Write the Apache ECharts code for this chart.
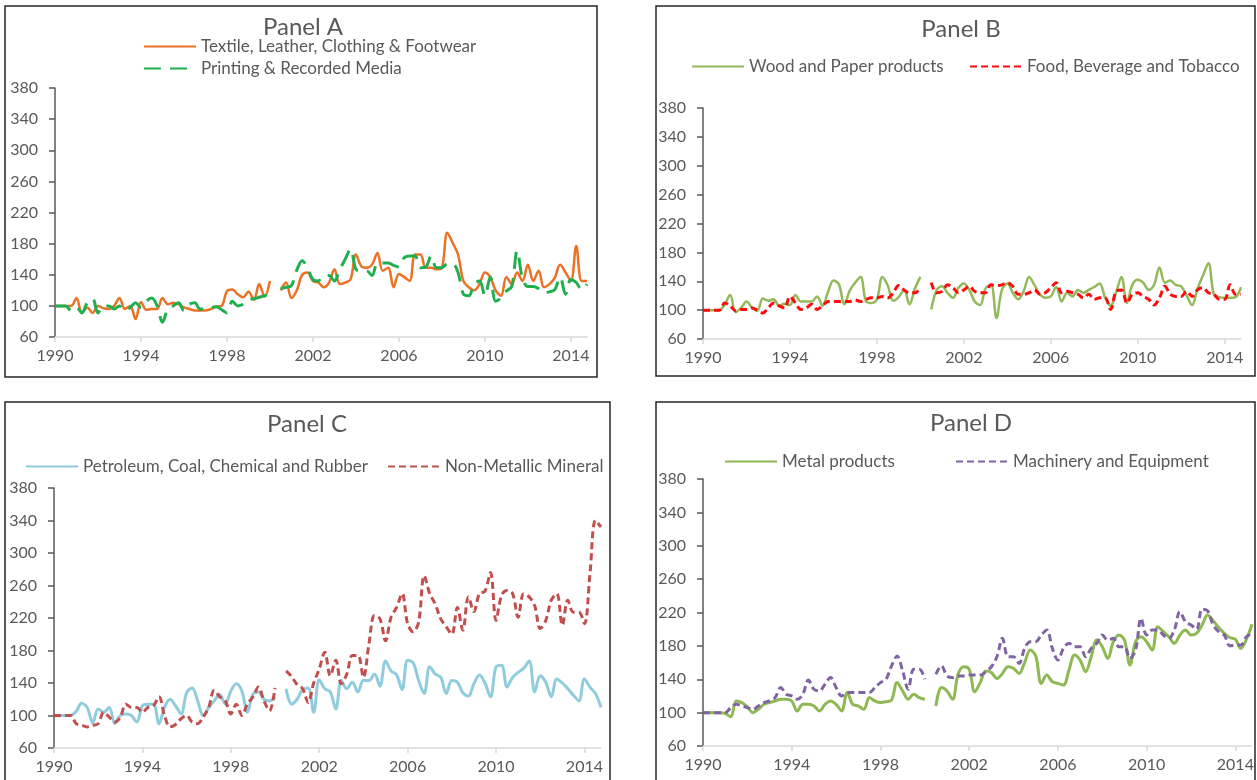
<!DOCTYPE html>
<html>
<head>
<meta charset="UTF-8">
<script src="https://cdn.jsdelivr.net/npm/echarts@6/dist/echarts.min.js"></script>
<style>
  html, body { margin: 0; padding: 0; background: #ffffff; }
  #chart { width: 1257px; height: 780px; }
</style>
</head>
<body>
<div id="chart"></div>
<script>
// ---- data (quarterly, 1990Q1 .. 2014Q4, index 1990=100) ----
var yearTicks = [1990, 1994, 1998, 2002, 2006, 2010, 2014];

var textile = [
  100, 100, 100, 100,
  110, 91, 98, 91,
  100, 97, 96, 100,
  110, 96, 100, 83,
  105, 95, 96, 96,
  110, 102, 104, 102,
  98, 96, 94, 94,
  94, 96, 99, 100,
  119, 121, 115, 111,
  118, 108, 128, 112,
  132, null, 120, 130,
  110, 120, 140, 143,
  132, 130, 124, 130,
  147, 128, 130, 134,
  166, 151, 149, 153,
  168, 145, 149, 124,
  141, 137, 132, 166,
  166, 149, 149, 147,
  149, 194, 181, 166,
  132, 124, 120, 128,
  143, 137, 120, 113,
  137, 128, 143, 132,
  153, 132, 145, 124,
  128, 136, 153, 143,
  132, 177, 132, 132
];
var printing = [
  100, 100, 100, 94,
  98, 91, 104, 109,
  91, 100, 100, 96,
  100, 94, 98, 104,
  98, 106, 110, 100,
  79, 96, 100, 104,
  94, 102, 104, 96,
  96, 98, 99, 95,
  91, 106, 100, 102,
  108, 109, 111, 113,
  115, null, 122, 124,
  126, 146, 158, 148,
  134, 132, 139, 139,
  132, 147, 160, 173,
  147, 145, 145, 139,
  155, 155, 155, 152,
  150, 162, 164, 164,
  149, 150, 164, 149,
  149, 154, 154, 143,
  115, 113, 128, 132,
  113, 137, 106, 110,
  119, 125, 171, 135,
  125, 125, 122, 117,
  118, 121, 137, 115,
  134, 130, 121, 128
];
var wood = [
  100, 100, 100, 100,
  108, 121, 97, 103,
  112, 104, 99, 116,
  113, 115, 106, 109,
  107, 121, 112, 112,
  112, 119, 106, 125,
  141, 136, 108, 127,
  138, 146, 112, 110,
  115, 146, 134, 113,
  118, 128, 108, 130,
  146, null, 101, 128,
  133, 124, 117, 131,
  137, 128, 112, 107,
  130, 135, 89, 128,
  137, 124, 115, 126,
  146, 135, 122, 117,
  119, 132, 112, 124,
  119, 128, 124, 128,
  132, 137, 117, 106,
  124, 146, 110, 135,
  142, 138, 128, 135,
  159, 138, 141, 135,
  133, 120, 107, 130,
  148, 165, 122, 118,
  117, 117, 118, 132
];
var food = [
  100, 100, 100, 100,
  110, 106, 99, 101,
  101, 103, 100, 96,
  103, 110, 106, 103,
  119, 110, 101, 103,
  108, 101, 106, 112,
  112, 112, 112, 112,
  114, 112, 115, 117,
  117, 119, 117, 124,
  134, 128, 124, 124,
  131, null, 138, 124,
  126, 135, 131, 124,
  128, 133, 126, 124,
  124, 135, 134, 135,
  138, 133, 122, 122,
  124, 128, 122, 124,
  131, 138, 124, 126,
  124, 122, 117, 122,
  115, 117, 117, 101,
  126, 128, 110, 122,
  124, 119, 115, 107,
  117, 133, 122, 119,
  119, 126, 119, 128,
  131, 124, 122, 115,
  115, 135, 122, 122
];
var petroleum = [
  100, 100, 100, 100,
  105, 115, 110, 91,
  108, 104, 110, 90,
  100, 102, 100, 92,
  112, 114, 114, 90,
  110, 120, 112, 102,
  128, 134, 118, 100,
  110, 118, 126, 114,
  130, 139, 130, 104,
  126, 129, 120, 118,
  123, null, 133, 114,
  120, 132, 134, 104,
  144, 133, 129, 108,
  143, 133, 141, 129,
  143, 143, 151, 136,
  167, 155, 150, 132,
  168, 165, 143, 127,
  160, 151, 147, 127,
  143, 141, 128, 124,
  139, 150, 140, 123,
  160, 162, 135, 147,
  153, 158, 167, 129,
  149, 141, 123, 145,
  140, 133, 125, 118,
  145, 135, 127, 110
];
var nonMetallic = [
  100, 100, 100, 100,
  90, 88, 86, 88,
  90, 104, 98, 92,
  98, 114, 110, 110,
  104, 110, 112, 123,
  100, 86, 89, 96,
  100, 92, 90, 98,
  110, 131, 123, 118,
  102, 114, 100, 114,
  123, 135, 118, 106,
  134, null, 155, 148,
  138, 133, 116, 140,
  157, 178, 149, 168,
  139, 151, 174, 174,
  147, 188, 223, 219,
  192, 221, 233, 250,
  213, 203, 215, 272,
  250, 237, 219, 209,
  200, 233, 205, 246,
  228, 250, 253, 276,
  217, 248, 254, 250,
  221, 250, 246, 235,
  207, 217, 242, 250,
  211, 242, 227, 227,
  213, 274, 340, 332
];
var metal = [
  100, 100, 100, 100,
  99, 95, 114, 112,
  107, 100, 104, 110,
  112, 114, 116, 116,
  114, 102, 110, 110,
  108, 102, 110, 114,
  110, 102, 124, 110,
  108, 104, 118, 114,
  112, 113, 115, 136,
  126, 116, 122, 118,
  116, null, 108, 130,
  126, 116, 146, 155,
  152, 125, 136, 150,
  148, 141, 147, 155,
  153, 147, 160, 175,
  168, 135, 145, 137,
  135, 133, 151, 169,
  163, 149, 167, 187,
  179, 165, 185, 193,
  187, 157, 185, 191,
  185, 175, 203, 197,
  191, 183, 193, 199,
  193, 195, 205, 217,
  210, 202, 195, 190,
  188, 177, 188, 206
];
var machinery = [
  100, 100, 100, 100,
  100, 106, 110, 108,
  106, 104, 108, 112,
  114, 118, 130, 122,
  120, 116, 122, 139,
  128, 126, 134, 142,
  130, 120, 124, 124,
  124, 124, 124, 130,
  136, 140, 156, 168,
  150, 128, 152, 152,
  140, null, 146, 156,
  144, 142, 144, 144,
  145, 145, 145, 149,
  155, 167, 189, 167,
  167, 159, 177, 185,
  185, 193, 199, 177,
  163, 177, 183, 179,
  179, 167, 177, 183,
  193, 187, 189, 179,
  179, 165, 175, 213,
  193, 199, 199, 193,
  189, 199, 221, 209,
  205, 200, 224, 222,
  205, 197, 193, 180,
  181, 181, 191, 195
];

var quarters = [];
for (var i = 0; i < textile.length; i++) quarters.push(1990 + i / 4);

function pairs(values) {
  return values.map(function (v, i) { return [quarters[i], v]; });
}

var FONT = 'Lato, "Open Sans", sans-serif';
var TEXT = '#595959';

// panel layout
var panels = [
  { title: 'Panel A', cx: 303, ty: 27, box: [5, 6, 592, 371], grid: [55, 88, 532, 249] },
  { title: 'Panel B', cx: 961, ty: 29, box: [656, 6, 599, 370], grid: [703, 108, 538, 231] },
  { title: 'Panel C', cx: 307, ty: 424, box: [5, 402, 605, 400], grid: [54, 488, 547, 260] },
  { title: 'Panel D', cx: 971, ty: 423, box: [656, 402, 599, 400], grid: [703, 479, 549, 267] }
];

var seriesDefs = [
  { name: 'Textile, Leather, Clothing & Footwear', data: textile, panel: 0, color: '#EB7125', width: 2.5, dash: 'solid', lx: 143, ly: 38 },
  { name: 'Printing & Recorded Media', data: printing, panel: 0, color: '#1FAF4F', width: 3, dash: [17, 9], lx: 143, ly: 60 },
  { name: 'Wood and Paper products', data: wood, panel: 1, color: '#93B95A', width: 2.5, dash: 'solid', lx: 691, ly: 58 },
  { name: 'Food, Beverage and Tobacco', data: food, panel: 1, color: '#FF0A0A', width: 3, dash: [7, 4], lx: 969, ly: 58 },
  { name: 'Petroleum, Coal, Chemical and Rubber', data: petroleum, panel: 2, color: '#8FCCDD', width: 3, dash: 'solid', lx: 25, ly: 458 },
  { name: 'Non-Metallic Mineral', data: nonMetallic, panel: 2, color: '#C0504D', width: 3, dash: [7, 4], lx: 387, ly: 458 },
  { name: 'Metal products', data: metal, panel: 3, color: '#8DB852', width: 3, dash: 'solid', lx: 724, ly: 453 },
  { name: 'Machinery and Equipment', data: machinery, panel: 3, color: '#8064A2', width: 3, dash: [7, 4], lx: 955, ly: 453 }
];

var grids = [], xAxes = [], yAxes = [], graphics = [];
panels.forEach(function (p, idx) {
  grids.push({ left: p.grid[0], top: p.grid[1], width: p.grid[2], height: p.grid[3] });
  xAxes.push({
    type: 'value', gridIndex: idx, min: 1990, max: 2014.75,
    axisLine: { show: true, onZero: false, lineStyle: { color: '#d9d9d9', width: 1.5 } },
    axisTick: { show: true, length: 5, customValues: yearTicks, lineStyle: { color: '#d9d9d9', width: 1.5 } },
    axisLabel: {
      customValues: yearTicks, color: TEXT, fontSize: 16, fontFamily: FONT, margin: 11,
      formatter: function (v) { return String(v); }
    },
    splitLine: { show: false }
  });
  yAxes.push({
    type: 'value', gridIndex: idx, min: 60, max: 380, interval: 40,
    axisLine: { show: true, onZero: false, lineStyle: { color: '#595959', width: 1.5 } },
    axisTick: { show: true, length: 6, lineStyle: { color: '#595959', width: 1.5 } },
    axisLabel: { color: TEXT, fontSize: 16, fontFamily: FONT, margin: 17 },
    splitLine: { show: false }
  });
  graphics.push({
    type: 'rect', silent: true,
    shape: { x: p.box[0], y: p.box[1], width: p.box[2], height: p.box[3] },
    style: { fill: 'none', stroke: '#262626', lineWidth: 1.5 }
  });
  graphics.push({
    type: 'text', silent: true, x: p.cx, y: p.ty,
    style: { text: p.title, fill: TEXT, font: '24px ' + FONT, textAlign: 'center', textVerticalAlign: 'middle' }
  });
});

var series = seriesDefs.map(function (s) {
  return {
    name: s.name, type: 'line', xAxisIndex: s.panel, yAxisIndex: s.panel,
    data: pairs(s.data), symbol: 'none', smooth: 0.35, connectNulls: false,
    color: s.color,
    lineStyle: { color: s.color, width: s.width, type: s.dash, cap: 'butt' },
    emphasis: { disabled: true }, animation: false
  };
});

// legend: line sample only, no marker
var legends = seriesDefs.map(function (s) {
  return {
    data: [s.name], left: s.lx, top: s.ly, padding: 0,
    itemWidth: 52, itemHeight: 14, itemGap: 0, selectedMode: false,
    itemStyle: { opacity: 0 },
    textStyle: { color: TEXT, fontSize: 17, fontFamily: FONT }
  };
});

var chart = echarts.init(document.getElementById('chart'), null, { renderer: 'canvas' });
chart.setOption({
  backgroundColor: '#ffffff',
  animation: false,
  grid: grids,
  xAxis: xAxes,
  yAxis: yAxes,
  legend: legends,
  graphic: graphics,
  series: series
});
</script>
</body>
</html>
